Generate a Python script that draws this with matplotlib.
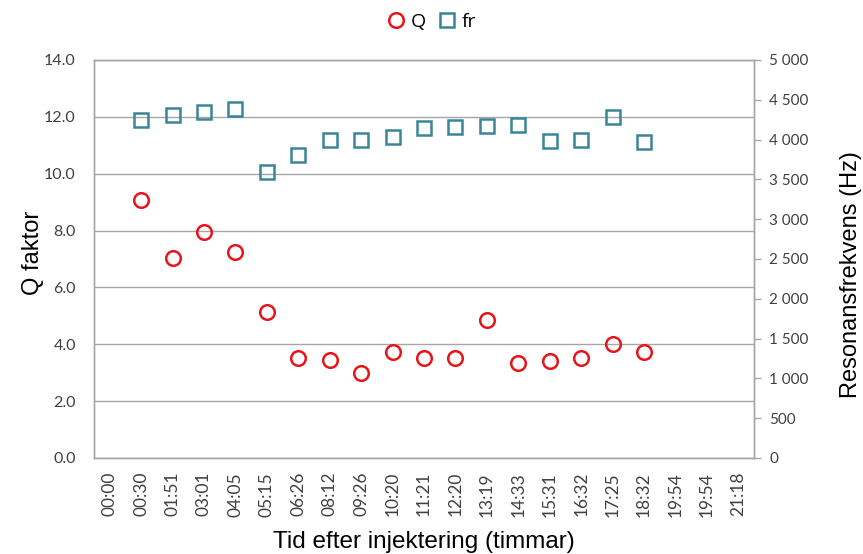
import matplotlib
matplotlib.use("Agg")
import matplotlib.pyplot as plt
import numpy as np
from matplotlib.ticker import FuncFormatter, MultipleLocator

# Sample times after injection (category labels)
times = ["00:00", "00:30", "01:51", "03:01", "04:05", "05:15", "06:26", "08:12",
         "09:26", "10:20", "11:21", "12:20", "13:19", "14:33", "15:31", "16:32",
         "17:25", "18:32", "19:54", "19:54", "21:18"]

# Q factor per sample (None = not measured)
q_factor = [None, 9.09, 7.02, 7.96, 7.25, 5.14, 3.50, 3.46, 3.00, 3.72, 3.50,
            3.50, 4.85, 3.33, 3.42, 3.51, 4.01, 3.72, None, None, None]

# Resonance frequency in Hz
fr_hz = [None, 4242, 4313, 4343, 4384, 3593, 3803, 3999, 3999, 4029, 4150,
         4158, 4175, 4179, 3982, 3999, 4284, 3966, None, None, None]

red = "#e8141c"
teal = "#3a8597"
grid_c = "#a6a6a6"
text_c = "#404040"
tick_font = "Lato"
label_font = "Liberation Sans"

fig = plt.figure(figsize=(8.63, 5.54), dpi=100)
ax = fig.add_axes([0.1089, 0.1733, 0.7648, 0.7184])
ax2 = ax.twinx()

x = np.arange(len(times))
qx = [i for i, v in zip(x, q_factor) if v is not None]
qv = [v for v in q_factor if v is not None]
fx = [i for i, v in zip(x, fr_hz) if v is not None]
fv = [v for v in fr_hz if v is not None]

ax.plot(qx, qv, linestyle="none", marker="o", markersize=10.5,
        markerfacecolor="none", markeredgecolor=red, markeredgewidth=1.8,
        label="Q", zorder=3)
ax2.plot(fx, fv, linestyle="none", marker="s", markersize=10.5,
         markerfacecolor="none", markeredgecolor=teal, markeredgewidth=1.8,
         label="fr", zorder=3)

ax.set_xlim(-0.5, len(times) - 0.5)
ax.set_ylim(0, 14)
ax2.set_ylim(0, 5000)
ax.yaxis.set_major_locator(MultipleLocator(2))
ax2.yaxis.set_major_locator(MultipleLocator(500))
ax.yaxis.set_major_formatter(FuncFormatter(lambda v, p: f"{v:.1f}"))
ax2.yaxis.set_major_formatter(
    FuncFormatter(lambda v, p: f"{int(v):,}".replace(",", " ")))

ax.set_xticks(x)
ax.set_xticklabels(times, rotation=90, fontfamily=tick_font, fontsize=12.5,
                   color=text_c)
ax.tick_params(axis="x", length=0, pad=10)
ax.tick_params(axis="y", length=0, pad=13, labelsize=11.5, labelcolor=text_c)
ax2.tick_params(axis="y", length=5, width=1, color=grid_c, pad=6,
                labelsize=11, labelcolor=text_c)
for lbl in ax.get_yticklabels() + ax2.get_yticklabels():
    lbl.set_fontfamily(tick_font)

ax.grid(axis="y", color=grid_c, linewidth=1)
ax.set_axisbelow(True)
for a in (ax, ax2):
    for s in a.spines.values():
        s.set_color(grid_c)
        s.set_linewidth(1)

ax.set_ylabel("Q faktor", fontfamily=label_font, fontsize=17)
ax2.set_ylabel("Resonansfrekvens (Hz)", fontfamily=label_font, fontsize=17,
               rotation=90)
ax.set_xlabel("Tid efter injektering (timmar)", fontfamily=label_font,
              fontsize=17.5)
# Axis-title placement in axes coordinates
ax.yaxis.set_label_coords(-0.075, 0.515)
ax2.yaxis.set_label_coords(1.13, 0.46)
ax.xaxis.set_label_coords(0.5, -0.184)

h1, l1 = ax.get_legend_handles_labels()
h2, l2 = ax2.get_legend_handles_labels()
fig.legend(h1 + h2, l1 + l2, loc="center", bbox_to_anchor=(0.5, 0.96),
           ncol=2, frameon=False, handlelength=1.0, handletextpad=0.25,
           columnspacing=0.6, prop={"family": "Open Sans", "size": 14})

fig.savefig("out.png", dpi=100)
